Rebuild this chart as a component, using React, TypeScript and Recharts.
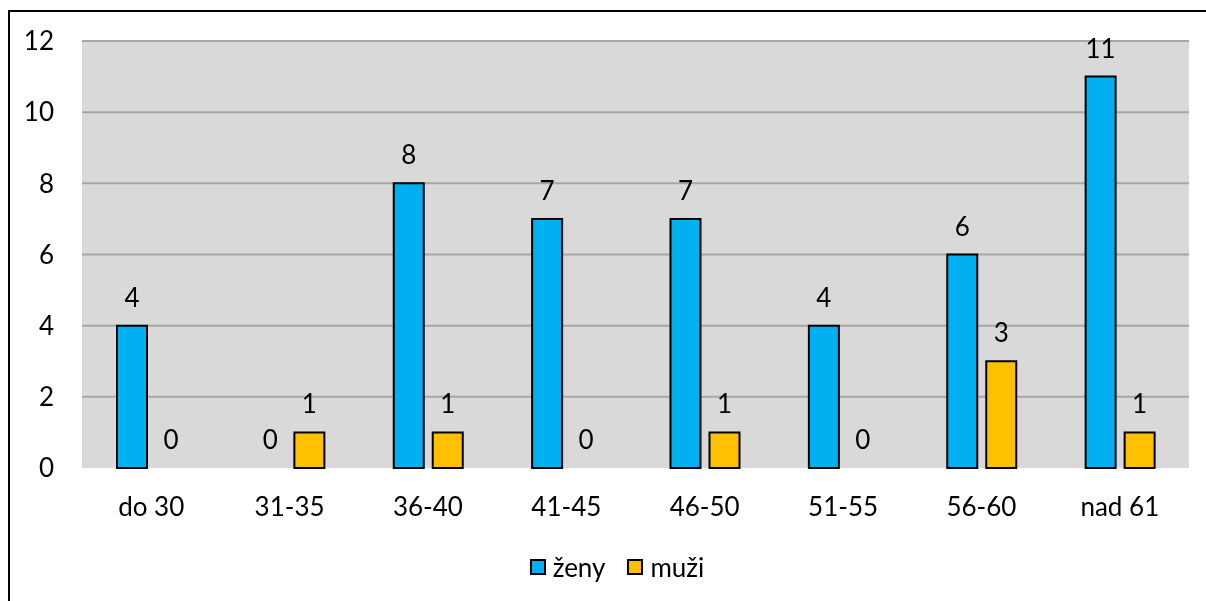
import React from 'react';
import { BarChart, Bar, XAxis, YAxis, CartesianGrid, LabelList, Legend, Rectangle } from 'recharts';

const categories = ['do 30', '31-35', '36-40', '41-45', '46-50', '51-55', '56-60', 'nad 61'];
const zeny = [4, 0, 8, 7, 7, 4, 6, 11];
const muzi = [0, 1, 1, 0, 1, 0, 3, 1];
const yTicks = [0, 2, 4, 6, 8, 10, 12];
const gridValues = [2, 4, 6, 8, 10, 12];
const seriesNames = ['ženy', 'muži'];
const seriesColors = ['#00b0f0', '#ffc000'];

const data = categories.map((c, i) => ({ name: c, zeny: zeny[i], muzi: muzi[i] }));

const FONT = 'Lato, "Open Sans", sans-serif';
const FS = 26;

const LegendContent = () => (
  <div style={{ display: 'flex', justifyContent: 'center', alignItems: 'center', height: 30, paddingLeft: 23, fontFamily: FONT, fontSize: FS, color: '#000' }}>
    {seriesNames.map((n, i) => (
      <div key={n} style={{ display: 'flex', alignItems: 'center', marginRight: i === 0 ? 22 : 0 }}>
        <div style={{ width: 12, height: 12, background: seriesColors[i], border: '2px solid #000', marginRight: 7 }} />
        <span>{n}</span>
      </div>
    ))}
  </div>
);

const BarShape = (props: any) => {
  if (!props.height || Math.abs(props.height) < 1) return <g />;
  return <Rectangle {...props} />;
};

export default function App() {
  return (
    <div style={{ position: 'relative', width: 1190, height: 585 }}>
      <style>{'html,body{overflow:hidden}'}</style>
      <div style={{ position: 'fixed', left: 8, top: 10, width: 1400, height: 800, borderTop: '2px solid #000', borderLeft: '2px solid #000', pointerEvents: 'none' }} />
      <BarChart
        width={1190}
        height={585}
        data={data}
        margin={{ top: 33, right: 9, left: 14, bottom: 11 }}
        barSize={30}
        barGap={9}
        style={{ fontFamily: FONT }}
      >
        <CartesianGrid
          vertical={false}
          horizontalValues={gridValues}
          fill="#d9d9d9"
          fillOpacity={1}
          stroke="#a6a6a6"
          strokeWidth={2}
        />
        <XAxis
          dataKey="name"
          axisLine={false}
          tickLine={false}
          tickSize={0}
          tickMargin={30}
          height={84}
          interval={0}
          tick={{ fill: '#000', fontSize: FS, fontFamily: FONT }}
        />
        <YAxis
          domain={[0, 12]}
          ticks={yTicks}
          axisLine={false}
          tickLine={false}
          tickSize={0}
          tickMargin={28}
          width={60}
          tick={{ fill: '#000', fontSize: FS, fontFamily: FONT }}
        />
        <Legend verticalAlign="bottom" height={30} content={<LegendContent />} />
        <Bar dataKey="zeny" name="ženy" fill={seriesColors[0]} stroke="#000" strokeWidth={2} minPointSize={0.01} shape={BarShape} isAnimationActive={false}>
          <LabelList dataKey="zeny" position="top" offset={19} fill="#000" fontSize={FS} fontFamily={FONT} />
        </Bar>
        <Bar dataKey="muzi" name="muži" fill={seriesColors[1]} stroke="#000" strokeWidth={2} minPointSize={0.01} shape={BarShape} isAnimationActive={false}>
          <LabelList dataKey="muzi" position="top" offset={19} fill="#000" fontSize={FS} fontFamily={FONT} />
        </Bar>
      </BarChart>
    </div>
  );
}
